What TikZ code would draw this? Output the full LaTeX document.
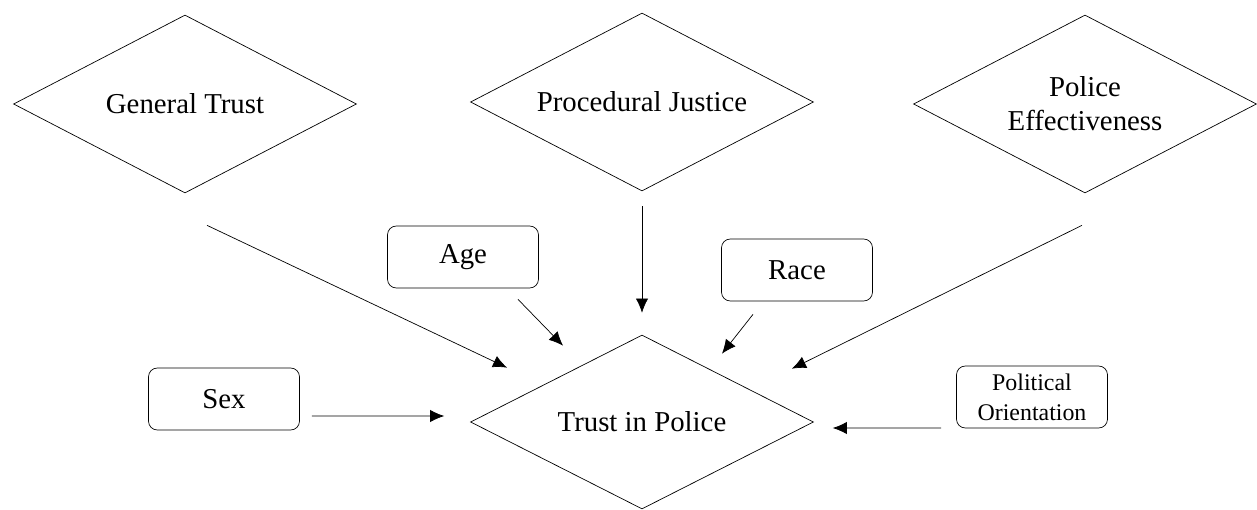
\documentclass[tikz,border=0pt]{standalone}
\usepackage{fontspec}
\setmainfont{Liberation Serif}
\usetikzlibrary{shapes.geometric,arrows.meta}
\tikzset{>={Latex[length=8pt,width=7pt]}, line width=1.1pt, font=\rmfamily\fontsize{16.4}{19.5}\selectfont}
\tikzstyle{factor} = [draw, diamond, shape aspect=1.93, minimum width=6.86cm, minimum height=3.56cm, inner sep=0pt, align=center]
\tikzstyle{control} = [draw, rectangle, rounded corners=5pt, minimum width=3.02cm, minimum height=1.24cm, align=center]

\begin{document}
\begin{tikzpicture}[x=0.02cm,y=-0.02cm]
		\useasboundingbox (0,0) rectangle (1257,510);
		\node [factor] (general) at (185,104) {General Trust};
		\node [factor] (procedural) at (642,102) {Procedural Justice};
		\node [factor] (effectiveness) at (1085,104) {Police\\Effectiveness};
		\node [factor, minimum height=3.48cm] (trust) at (642,422) {Trust in Police};
		\node [control] (age) at (463,257) {Age};
		\node [control] (race) at (797,270) {Race};
		\node [control] (sex) at (224,399) {Sex};
		\node [control, font=\rmfamily\fontsize{13.6}{17}\selectfont] (political) at (1032,397) {Political\\Orientation};

		\draw [->] ([xshift=0.44cm,yshift=-0.64cm]general.south) -- ([xshift=-2.7cm,yshift=-0.66cm]trust.north);
		\draw [->] ([xshift=1.1cm,yshift=-0.22cm]age.south) -- ([xshift=-1.58cm,yshift=-0.22cm]trust.north);
		\draw [->] ([yshift=-0.3cm]procedural.south) -- ([yshift=0.44cm]trust.north);
		\draw [->] ([xshift=-0.88cm,yshift=-0.26cm]race.south) -- ([xshift=1.6cm,yshift=-0.38cm]trust.north);
		\draw [->] ([xshift=-0.06cm,yshift=-0.64cm]effectiveness.south) -- ([xshift=3.0cm,yshift=-0.68cm]trust.north);
		\draw [->] ([xshift=0.24cm,yshift=-0.34cm]sex.east) -- ([xshift=-0.52cm,yshift=0.12cm]trust.west);
		\draw [->] ([xshift=-0.3cm,yshift=-0.62cm]political.west) -- ([xshift=0.38cm,yshift=-0.12cm]trust.east);
	\end{tikzpicture}
\end{document}
